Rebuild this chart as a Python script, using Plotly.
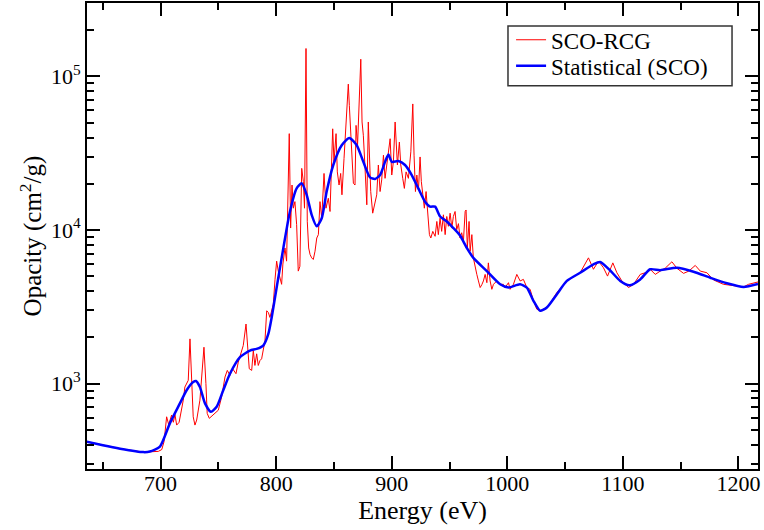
import plotly.graph_objects as go

# Statistical (SCO) smooth curve
stat_E = [636, 650, 665, 685, 690.7, 699.4, 708, 716.7, 722.5, 728.2, 730.6, 734, 738.4, 743.5,
          748.5, 754.2, 760, 768.7, 777.3, 783, 788.8, 793.2, 796.1, 800.4, 806.2, 811.9,
          817.7, 822.1, 826.4, 830.7, 835.1, 839.4, 843.7, 849.4, 856.7, 863.3, 869.7, 875.4,
          881.2, 885.5, 889.9, 894.2, 897.1, 900, 905.7, 911.5, 917.3, 923, 928.8, 933.2,
          937.5, 941.8, 947.6, 953.3, 959.1, 964.9, 970.6, 982.3, 993.8, 1001, 1011, 1016.9,
          1022.6, 1028.4, 1034.2, 1042.9, 1051.5, 1063, 1074.5, 1080.3, 1089, 1097.7, 1105.7,
          1115, 1123.6, 1132.3, 1146.8, 1161.1, 1175.6, 1190, 1204.4, 1216.9]
stat_V = [419, 397, 377, 358, 361, 389, 551, 743, 905, 1024, 1040, 950, 743, 655,
          706, 905, 1160, 1487, 1641, 1683, 1770, 2105, 2697, 4220, 7640, 13200,
          18660, 20140, 16950, 12560, 10570, 11940, 17800, 26500, 35650, 39700, 35650, 27800,
          22000, 21500, 22800, 27800, 31000, 27800, 28100, 26500, 22800, 18660, 15300, 14200,
          14200, 12250, 11370, 10300, 9200, 7640, 6590, 5400, 4430, 4220, 4430, 4220,
          3460, 2980, 3130, 3820, 4660, 5270, 5970, 6190, 5450, 4660, 4365,
          4770, 5550, 5480, 5680, 5350, 4890, 4500, 4260, 4450]

# SCO-RCG detailed spectrum
rcg_E = [636, 650, 665, 685, 692, 698, 701, 703, 705.2, 707, 709.5, 711, 712.4, 713.9, 716, 719.6,
         721, 722.5, 723.9, 725.4, 726.6, 728.2, 729.7, 731.2, 734, 735.5, 737.5, 739.2, 740.3,
         742.1, 745.5, 749.9, 752.8, 755.7, 757.7, 760, 762.3, 765.2, 767.2, 769.3, 771.5,
         773.9, 775.3, 776.7, 778.8, 780.2, 781.6, 783.1, 784.5, 786, 787.4, 788.8, 790.3,
         791.8, 793.2, 794.6, 796.1, 797.5, 799, 800.4, 801.8, 804.7, 805.8, 807.6, 809,
         811.3, 812.5, 813.7, 814.8, 816.2, 817.7, 819.1, 820.5, 822.1, 823.5, 824.5, 825.8,
         826.9, 828.1, 829.3, 830.7, 832.1, 833.6, 835.1, 836.5, 837.9, 839.4, 841.4, 843.1,
         845.1, 846.6, 848.9, 850, 851.8, 852.9, 854.4, 855.8, 856.9, 858.7, 860.4, 862.4,
         863.3, 864.5, 865.6, 866.8, 868.2, 869.1, 870.4, 873.2, 874.3, 875.4, 876.9, 878.4,
         879.7, 880.8, 881.8, 883.5, 885.5, 887, 888.4, 889.9, 891.3, 892.8, 894.2, 895.7,
         897.1, 898.6, 900, 901.4, 902.9, 903.9, 904.9, 906.6, 907.8, 909.5, 910.9, 912.4,
         914.4, 916.5, 918.2, 919.3, 920.5, 921.7, 923.1, 924.5, 925.6, 926.9, 928.2, 929.7,
         931.2, 932.6, 933.8, 935.5, 937.5, 939, 940.3, 941.8, 943.2, 944.7, 946.2, 947.6,
         949, 950.5, 952, 953.3, 954.8, 956.2, 957.7, 959.1, 960.5, 962, 963.5, 964.3, 965.4,
         966.9, 967.8, 969.3, 970.6, 972.1, 973.6, 975, 976.5, 977.9, 979.3, 980.8, 982.3,
         983.6, 985.1, 986.6, 988, 990.9, 993.8, 996.6, 998.1, 1001, 1002.4, 1005.3, 1008.2,
         1011.1, 1013.9, 1016.9, 1019.7, 1022.6, 1025.5, 1028.4, 1031.3, 1035.6, 1042.9,
         1051.5, 1063, 1070.2, 1074.5, 1078.9, 1083.2, 1086.7, 1091.3, 1094.8, 1099.1,
         1104.8, 1109.2, 1115, 1119.3, 1123.6, 1128, 1132.3, 1137, 1142.4, 1146.8, 1152.5,
         1157, 1162.6, 1167, 1172.7, 1178.4, 1187, 1195.8, 1204.4, 1208.7, 1216.9]
rcg_V = [419, 397, 377, 358, 358, 362, 372, 420, 608, 540, 624, 560, 630, 537, 560, 780,
         950, 1000, 1050, 1955, 1050, 608, 537, 579, 780, 1050, 1725, 1000, 640,
         594, 624, 671, 819, 1104, 1219, 1131, 1250, 1160, 1380, 1563, 1770,
         2443, 1641, 1250, 1219, 1641, 1313, 1563, 1313, 1415, 1450, 1683, 1905,
         2980, 2904, 2697, 3055, 3290, 4770, 6270, 5400, 4430, 6000, 7640, 6270,
         42400, 10300, 19630, 13870, 15300, 10840, 5400, 5800, 25200, 20650, 13870, 152000,
         11400, 7640, 6930, 6590, 6430, 7280, 8870, 9330, 15300, 11940, 23350, 13870,
         16100, 13200, 45600, 27800, 42400, 23900, 19630, 23350, 16950, 29200, 45600, 89100,
         64700, 41400, 25200, 20140, 19630, 48000, 35650, 129400, 50500, 41400, 25100, 14590,
         50500, 23900, 17800, 12870, 14930, 16950, 26500, 17800, 21200, 30700, 21700, 26000,
         31000, 39300, 22800, 27800, 50500, 32000, 26500, 37400, 26500, 21700, 18660, 23900,
         21700, 32300, 66200, 30700, 17800, 22800, 18210, 29900, 20650, 16950, 13870, 17800,
         12870, 9330, 8870, 9800, 9100, 11370, 9330, 11940, 9800, 12560, 9330, 12250,
         10570, 12870, 10300, 12250, 13200, 10040, 11000, 8870, 9600, 8450, 13200, 13500, 7640,
         11370, 7270, 9330, 6590, 5680, 5140, 4660, 4220, 4400, 4660, 5140, 4540,
         6110, 4660, 4110, 4430, 4660, 4430, 4430, 4220, 4540, 4110, 4430, 5140,
         4660, 4770, 4220, 4110, 3460, 3050, 2980, 3050, 3210, 3920,
         4660, 5270, 6590, 5550, 6270, 5680, 5010, 6110, 5270, 4660,
         4220, 4430, 5140, 5270, 5550, 5140, 5400, 5680, 6210, 5630, 5220,
         5400, 5880, 5400, 5270, 4730, 4430, 4320, 4260, 4430, 4590]

x_range = [636.3, 1216.9]
y_range_log = [2.444, 5.478]
x_major = [700, 800, 900, 1000, 1100, 1200]
x_minor = [650, 750, 850, 950, 1050, 1150]
y_major = [1e3, 1e4, 1e5]
y_major_text = ["10<sup>3</sup>", "10<sup>4</sup>", "10<sup>5</sup>"]
y_minor = [m * 10 ** d for d in (2, 3, 4, 5) for m in range(2, 10)]

font = "Liberation Serif"

fig = go.Figure()
fig.add_trace(go.Scatter(x=rcg_E, y=rcg_V, mode="lines", name="SCO-RCG",
                         line=dict(color="#ff0000", width=1), legend="legend"))
fig.add_trace(go.Scatter(x=stat_E, y=stat_V, mode="lines", name="Statistical (SCO)",
                         line=dict(color="#0000ff", width=2.5, shape="spline", smoothing=0.6),
                         legend="legend2"))

leg_common = dict(xanchor="left", yanchor="middle", borderwidth=0,
                  bgcolor="rgba(0,0,0,0)", font=dict(family=font, size=23))

fig.update_layout(
    width=764, height=530,
    margin=dict(l=87, r=6, t=1, b=61),
    paper_bgcolor="white", plot_bgcolor="white",
    font=dict(family=font, color="black", size=22),
    showlegend=True,
    legend=dict(x=0.632, y=0.921, **leg_common),
    legend2=dict(x=0.632, y=0.8654, **leg_common),
    shapes=[dict(type="rect", xref="paper", yref="paper",
                 x0=0.6274, x1=0.9613, y0=0.8226, y1=0.9509,
                 line=dict(color="#333333", width=1.5), fillcolor="rgba(0,0,0,0)",
                 layer="below")],
    xaxis=dict(range=x_range, tickmode="array", tickvals=x_major,
               ticks="inside", ticklen=13, tickwidth=1.5, tickcolor="black",
               minor=dict(tickmode="array", tickvals=x_minor, ticks="inside", ticklen=7,
                          tickwidth=1.5, tickcolor="black"),
               showline=True, linecolor="black", linewidth=2, mirror="ticks",
               showgrid=False, zeroline=False, ticklabelstandoff=-6,
               tickfont=dict(family=font, size=22),
               title=dict(text="Energy (eV)", font=dict(family=font, size=26), standoff=4)),
    yaxis=dict(type="log", range=y_range_log, tickmode="array", tickvals=y_major,
               ticktext=y_major_text,
               ticks="inside", ticklen=13, tickwidth=1.5, tickcolor="black",
               minor=dict(tickmode="array", tickvals=y_minor, ticks="inside", ticklen=7,
                          tickwidth=1.5, tickcolor="black"),
               showline=True, linecolor="black", linewidth=2, mirror="ticks",
               showgrid=False, zeroline=False,
               tickfont=dict(family=font, size=22),
               title=dict(text="Opacity (cm<sup>2</sup>/g)", font=dict(family=font, size=25),
                          standoff=2)),
)

fig.write_html("out.html")
